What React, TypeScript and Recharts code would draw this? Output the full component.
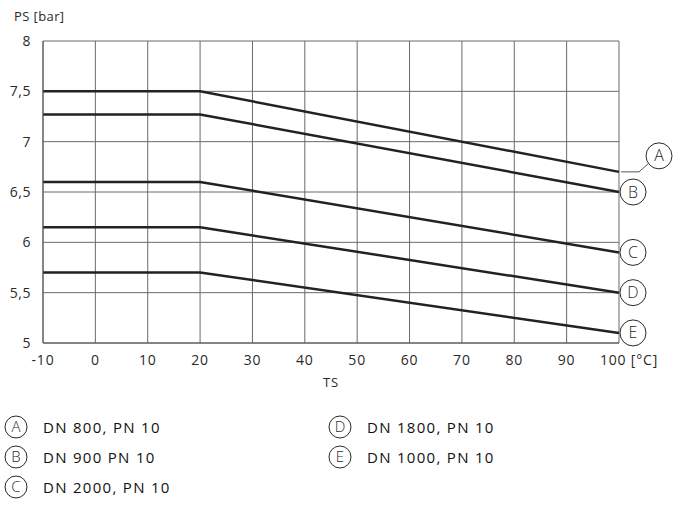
import { LineChart, Line, XAxis, YAxis, CartesianGrid, LabelList } from "recharts";

const TS_POINTS = [-10, 20, 100];
const SERIES_A = [7.5, 7.5, 6.7];
const SERIES_B = [7.27, 7.27, 6.5];
const SERIES_C = [6.6, 6.6, 5.9];
const SERIES_D = [6.15, 6.15, 5.5];
const SERIES_E = [5.7, 5.7, 5.1];
const SERIES_KEYS = ["A", "B", "C", "D", "E"];
const LEGEND_TEXT = ["DN 800, PN 10", "DN 900 PN 10", "DN 2000, PN 10", "DN 1800, PN 10", "DN 1000, PN 10"];
const X_TICKS = [-10, 0, 10, 20, 30, 40, 50, 60, 70, 80, 90, 100];
const Y_TICKS = [5, 5.5, 6, 6.5, 7, 7.5, 8];

const data = TS_POINTS.map((ts, i) => ({
  ts,
  A: SERIES_A[i],
  B: SERIES_B[i],
  C: SERIES_C[i],
  D: SERIES_D[i],
  E: SERIES_E[i],
}));

const FONT = "'Open Sans', 'Noto Sans', sans-serif";
const INK = "#2a2a2a";

function EndBadge(props: any) {
  const { x, y, index, letter } = props;
  if (index !== TS_POINTS.length - 1) return null;
  const r = 13;
  if (letter === "A") {
    const cx = x + 40;
    const cy = y - 16;
    return (
      <g>
        <polyline
          points={`${x + 2},${y} ${x + 20},${y} ${cx - 11},${cy + 8}`}
          fill="none"
          stroke="#555"
          strokeWidth={1}
        />
        <circle cx={cx} cy={cy} r={r} fill="#fff" stroke={INK} strokeWidth={1} />
        <text x={cx} y={cy + 5.5} textAnchor="middle" fontSize={16} fontWeight={300} fill={INK} fontFamily={FONT}>
          {letter}
        </text>
      </g>
    );
  }
  const cx = x + r + 1;
  return (
    <g>
      <circle cx={cx} cy={y} r={r} fill="#fff" stroke={INK} strokeWidth={1} />
      <text x={cx} y={y + 5.5} textAnchor="middle" fontSize={16} fontWeight={300} fill={INK} fontFamily={FONT}>
        {letter}
      </text>
    </g>
  );
}

function XTick(props: any) {
  const { x, y, payload } = props;
  const last = payload.value === 100;
  return (
    <text
      x={last ? x - 19 : x}
      y={y + 4}
      dy="0.71em"
      textAnchor={last ? "start" : "middle"}
      fontSize={14}
      letterSpacing={0.8}
      fill={INK}
      fontFamily={FONT}
    >
      {last ? "100 [°C]" : payload.value}
    </text>
  );
}

function LegendItem({ letter, text }: { letter: string; text: string }) {
  return (
    <div style={{ display: "flex", alignItems: "center", height: 30 }}>
      <svg width={26} height={26} style={{ marginRight: 14 }}>
        <circle cx={13} cy={13} r={11} fill="#fff" stroke={INK} strokeWidth={1} />
        <text x={13} y={18} textAnchor="middle" fontSize={15} fontWeight={300} fill={INK} fontFamily={FONT}>
          {letter}
        </text>
      </svg>
      <span style={{ fontSize: 15, color: "#111", letterSpacing: 1.3 }}>{text}</span>
    </div>
  );
}

export default function App() {
  return (
    <div
      style={{
        position: "absolute",
        left: 0,
        top: 0,
        width: 686,
        height: 514,
        background: "#fff",
        fontFamily: FONT,
        color: INK,
      }}
    >
      <div style={{ position: "absolute", left: 14, top: 7, fontSize: 13, letterSpacing: 0.4 }}>PS [bar]</div>
      <LineChart
        width={686}
        height={400}
        data={data}
        margin={{ top: 41, right: 67, left: 0, bottom: 0 }}
      >
        <CartesianGrid stroke="#6a6a6a" strokeWidth={1} />
        <XAxis
          dataKey="ts"
          type="number"
          domain={[-10, 100]}
          ticks={X_TICKS}
          tick={<XTick />}
          tickLine={false}
          axisLine={{ stroke: "#555" }}
          height={57}
          label={{ value: "TS", position: "insideBottom", offset: 13, fontSize: 13, fill: INK, letterSpacing: 0.8 }}
        />
        <YAxis
          type="number"
          domain={[5, 8]}
          ticks={Y_TICKS}
          tickFormatter={(v: number) => String(v).replace(".", ",")}
          tick={{ fontSize: 14, fill: INK, fontFamily: FONT, letterSpacing: 0.5 }}
          tickLine={false}
          axisLine={{ stroke: "#555" }}
          width={43}
          tickMargin={6}
        />
        {SERIES_KEYS.map((key) => (
          <Line
            key={key}
            dataKey={key}
            type="linear"
            stroke="#222"
            strokeWidth={2.5}
            dot={false}
            isAnimationActive={false}
          >
            <LabelList dataKey={key} content={(p: any) => <EndBadge {...p} letter={key} />} />
          </Line>
        ))}
      </LineChart>
      <div style={{ position: "absolute", left: 3, top: 412 }}>
        {SERIES_KEYS.slice(0, 3).map((k, i) => (
          <LegendItem key={k} letter={k} text={LEGEND_TEXT[i]} />
        ))}
      </div>
      <div style={{ position: "absolute", left: 327, top: 412 }}>
        {SERIES_KEYS.slice(3).map((k, i) => (
          <LegendItem key={k} letter={k} text={LEGEND_TEXT[i + 3]} />
        ))}
      </div>
    </div>
  );
}
